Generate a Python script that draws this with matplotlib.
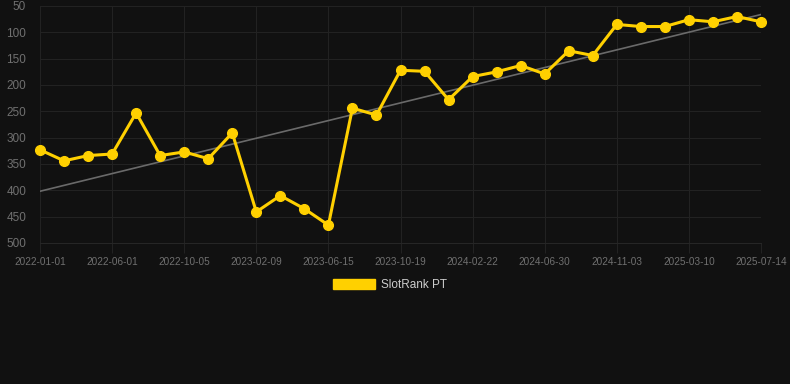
import matplotlib
matplotlib.use("Agg")
import matplotlib.pyplot as plt
import numpy as np

tick_labels = ["2022-01-01", "2022-06-01", "2022-10-05", "2023-02-09", "2023-06-15",
               "2023-10-19", "2024-02-22", "2024-06-30", "2024-11-03", "2025-03-10",
               "2025-07-14"]
rank = [323, 344, 334, 331, 253, 334, 327, 340, 291, 441, 410, 435, 466, 244, 257,
        172, 174, 228, 184, 175, 163, 179, 135, 144, 85, 89, 89, 76, 80, 70, 80]
series_name = "SlotRank PT"

bg = "#111111"
grid_c = "#222222"
gold = "#FFD000"
txt = "#707070"

plt.rcParams['font.family'] = ['Liberation Sans', 'DejaVu Sans']

fig = plt.figure(figsize=(7.9, 3.84), dpi=100, facecolor=bg)
W, H = 790, 384
ax = fig.add_axes([40 / W, 1 - 243 / H, (761 - 40) / W, (243 - 6) / H], facecolor=bg)

x = np.arange(len(rank))
# trend line (linear regression)
coef = np.polyfit(x, rank, 1)
ax.plot([x[0], x[-1]], np.polyval(coef, [x[0], x[-1]]), color="#6a6a6a", lw=1.2, zorder=2,
        solid_capstyle="round")

ax.plot(x, rank, color=gold, lw=2.2, marker="o", ms=7, markerfacecolor=gold,
        markeredgecolor=gold, zorder=3, clip_on=False, label=series_name)

ax.set_xlim(0, len(rank) - 1)
ax.set_ylim(500, 50)
ax.set_yticks(np.arange(50, 501, 50))
ax.set_xticks(x[::3])
ax.set_xticklabels(tick_labels)

ax.grid(True, color=grid_c, lw=0.72, snap=True)
ax.set_axisbelow(True)
for s in ["top", "right", "left"]:
    ax.spines[s].set_visible(False)
ax.spines["bottom"].set_color("#262626")
ax.spines["bottom"].set_linewidth(0.72)
ax.tick_params(axis="y", length=0, pad=10, labelcolor=txt, labelsize=8.5)
ax.tick_params(axis="x", length=7, width=0.72, color=grid_c, pad=3, labelcolor=txt, labelsize=7.2)

leg = fig.legend(handles=[plt.Rectangle((0, 0), 1, 1, color=gold)], labels=[series_name],
                 loc="center", bbox_to_anchor=(390 / W, 1 - 285 / H), frameon=False,
                 handlelength=3.6, handleheight=1.0, handletextpad=0.5, fontsize=8.5)
for t in leg.get_texts():
    t.set_color("#cccccc")

fig.savefig("out.png", dpi=100, facecolor=bg)
